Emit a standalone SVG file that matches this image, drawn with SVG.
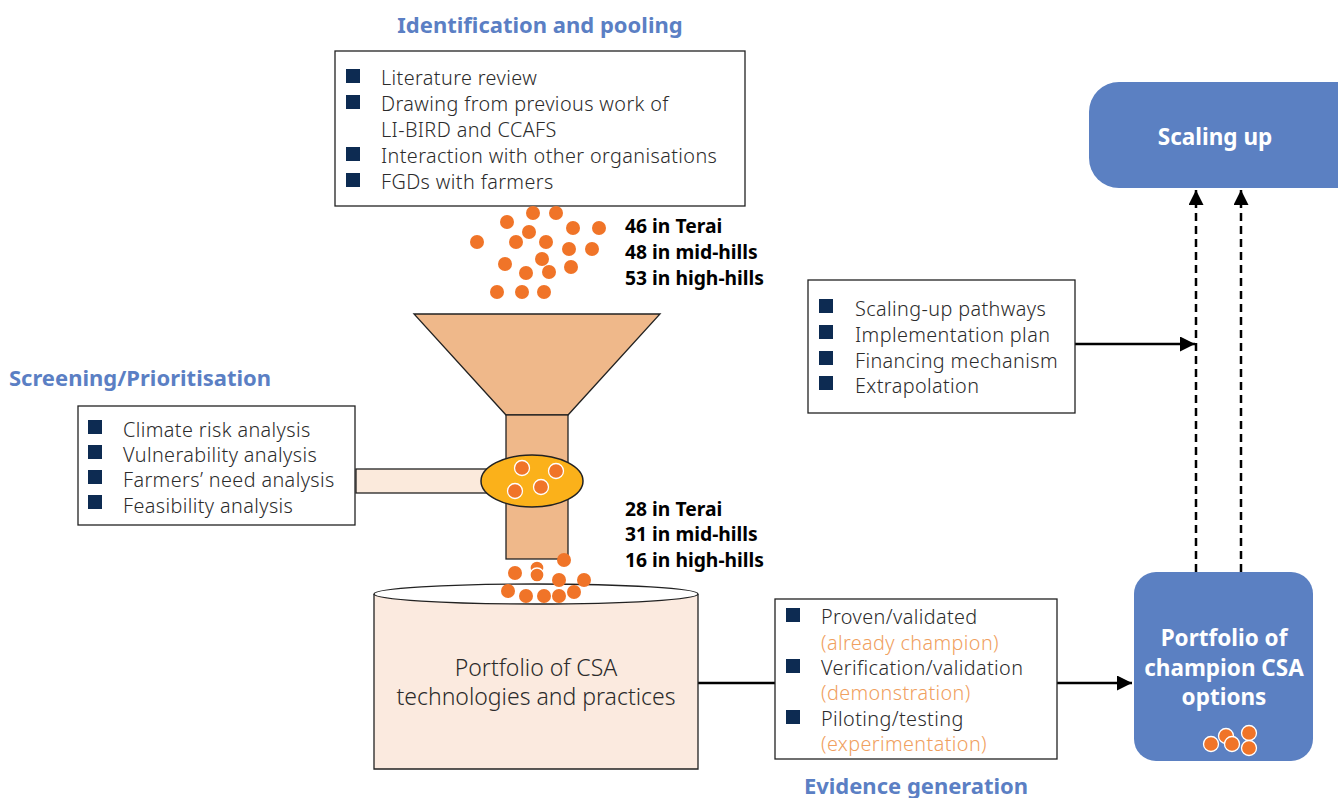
<svg xmlns="http://www.w3.org/2000/svg" width="1338" height="798" viewBox="0 0 1338 798">
<style>
.title{font-family:"Noto Sans","Liberation Sans",sans-serif;font-weight:bold;font-size:22px;fill:#5b7fc4}
.item{font-family:"Noto Sans","Liberation Sans",sans-serif;font-weight:300;font-size:19.8px;letter-spacing:0.4px;fill:#2b2b2b}
.sub{font-family:"Noto Sans","Liberation Sans",sans-serif;font-weight:300;font-size:19.8px;letter-spacing:0.4px;fill:#f0a060}
.count{font-family:"Noto Sans","Liberation Sans",sans-serif;font-weight:bold;font-size:19.3px;fill:#000}
.wht{font-family:"Noto Sans","Liberation Sans",sans-serif;font-weight:bold;font-size:22.5px;fill:#fff}
.big{font-family:"Noto Sans","Liberation Sans",sans-serif;font-weight:300;font-size:23px;fill:#2b2b2b}
.box{fill:#fff;stroke:#222;stroke-width:1.3}
.bul{fill:#0d2b52}
.dot{fill:#f07428}
.dotw{fill:#f07428;stroke:#fff;stroke-width:1.3}
.conn{stroke:#000;stroke-width:2.5;fill:none}
.dash{stroke:#000;stroke-width:2.5;fill:none;stroke-dasharray:8 5}
</style>
<defs>
<marker id="ah2" viewBox="0 0 10 10" refX="10" refY="5" markerWidth="6" markerHeight="6" orient="auto">
<path d="M0,0 L10,5 L0,10 z" fill="#000"/>
</marker>
</defs>

<!-- titles -->
<text class="title" x="540" y="33" text-anchor="middle">Identification and pooling</text>
<text class="title" x="9" y="386">Screening/Prioritisation</text>
<text class="title" x="916" y="794" text-anchor="middle">Evidence generation</text>

<!-- connectors -->
<g id="connectors">
<line class="conn" x1="698" y1="683" x2="775" y2="683"/>
<line class="conn" x1="1057" y1="683" x2="1132" y2="683" marker-end="url(#ah2)"/>
<line class="conn" x1="1075" y1="344" x2="1195" y2="344" marker-end="url(#ah2)"/>
<line class="dash" x1="1196" y1="572" x2="1196" y2="190" marker-end="url(#ah2)"/>
<line class="dash" x1="1241" y1="572" x2="1241" y2="190" marker-end="url(#ah2)"/>
</g>

<!-- identification box -->
<g id="identification">
<rect class="box" x="335" y="51" width="410" height="155"/>
<rect class="bul" x="346" y="69" width="14" height="14"/>
<rect class="bul" x="346" y="95" width="14" height="14"/>
<rect class="bul" x="346" y="147" width="14" height="14"/>
<rect class="bul" x="346" y="173" width="14" height="14"/>
<text class="item" x="381" y="85">Literature review</text>
<text class="item" x="381" y="111">Drawing from previous work of</text>
<text class="item" x="381" y="137">LI-BIRD and CCAFS</text>
<text class="item" x="381" y="163">Interaction with other organisations</text>
<text class="item" x="381" y="189">FGDs with farmers</text>
</g>

<!-- top dots -->
<g id="pool-dots">
<circle class="dot" cx="507" cy="222" r="7"/>
<circle class="dot" cx="533" cy="213" r="7"/>
<circle class="dot" cx="556" cy="213" r="7"/>
<circle class="dot" cx="573" cy="228" r="7"/>
<circle class="dot" cx="599" cy="228" r="7"/>
<circle class="dot" cx="477" cy="242" r="7"/>
<circle class="dot" cx="529" cy="232" r="7"/>
<circle class="dot" cx="516" cy="242" r="7"/>
<circle class="dot" cx="546" cy="242" r="7"/>
<circle class="dot" cx="569" cy="249" r="7"/>
<circle class="dot" cx="592" cy="249" r="7"/>
<circle class="dot" cx="505" cy="264" r="7"/>
<circle class="dot" cx="542" cy="259" r="7"/>
<circle class="dot" cx="571" cy="267" r="7"/>
<circle class="dot" cx="526" cy="273" r="7"/>
<circle class="dot" cx="549" cy="272" r="7"/>
<circle class="dot" cx="497" cy="292" r="7"/>
<circle class="dot" cx="522" cy="292" r="7"/>
<circle class="dot" cx="544" cy="292" r="7"/>
</g>

<g id="counts-pool">
<text class="count" x="625" y="233">46 in Terai</text>
<text class="count" x="625" y="259">48 in mid-hills</text>
<text class="count" x="625" y="285">53 in high-hills</text>
</g>

<!-- screening box -->
<g id="screening">
<rect class="box" x="78" y="406" width="277" height="119"/>
<rect class="bul" x="88" y="420" width="14" height="14"/>
<rect class="bul" x="88" y="445" width="14" height="14"/>
<rect class="bul" x="88" y="470" width="14" height="14"/>
<rect class="bul" x="88" y="495" width="14" height="14"/>
<text class="item" x="123" y="437">Climate risk analysis</text>
<text class="item" x="123" y="462">Vulnerability analysis</text>
<text class="item" x="123" y="487">Farmers’ need analysis</text>
<text class="item" x="123" y="513">Feasibility analysis</text>
</g>

<!-- funnel -->
<g id="funnel">
<rect x="356" y="469" width="140" height="24" fill="#fbeadc" stroke="#222" stroke-width="1.3"/>
<polygon points="414,314 660,314 568,415 506,415" fill="#efb88a" stroke="#222" stroke-width="1.3"/>
<rect x="506" y="415" width="62" height="144" fill="#efb88a" stroke="#222" stroke-width="1.3"/>
<ellipse cx="532" cy="481" rx="51" ry="26" fill="#fbb11a" stroke="#222" stroke-width="1.5"/>
<circle class="dotw" cx="522" cy="468" r="7.5"/>
<circle class="dotw" cx="556" cy="471" r="7.5"/>
<circle class="dotw" cx="515" cy="491" r="7.5"/>
<circle class="dotw" cx="541" cy="487" r="7.5"/>
</g>

<g id="counts-screened">
<text class="count" x="625" y="516">28 in Terai</text>
<text class="count" x="625" y="541">31 in mid-hills</text>
<text class="count" x="625" y="567">16 in high-hills</text>
</g>

<!-- cylinder -->
<g id="portfolio-csa">
<path d="M374,594 L374,769 L698,769 L698,594" fill="#fbeadf" stroke="#222" stroke-width="1.3"/>
<ellipse cx="536" cy="594" rx="162" ry="10" fill="#fff" stroke="#222" stroke-width="1.3"/>
<text class="big" x="536" y="676" text-anchor="middle">Portfolio of CSA</text>
<text class="big" x="536" y="705" text-anchor="middle">technologies and practices</text>
</g>

<!-- falling dots -->
<g id="falling-dots">
<circle class="dot" cx="564" cy="560" r="7"/>
<circle class="dotw" cx="537" cy="568" r="7"/>
<circle class="dot" cx="515" cy="573" r="7"/>
<circle class="dotw" cx="537" cy="575" r="7"/>
<circle class="dot" cx="559" cy="580" r="7"/>
<circle class="dot" cx="584" cy="580" r="7"/>
<circle class="dot" cx="508" cy="591" r="7"/>
<circle class="dot" cx="526" cy="596" r="7"/>
<circle class="dot" cx="544" cy="596" r="7"/>
<circle class="dot" cx="559" cy="596" r="7"/>
<circle class="dot" cx="574" cy="592" r="7"/>
</g>

<!-- evidence box -->
<g id="evidence">
<rect class="box" x="775" y="599" width="282" height="160"/>
<rect class="bul" x="786" y="608" width="14" height="14"/>
<rect class="bul" x="786" y="659" width="14" height="14"/>
<rect class="bul" x="786" y="710" width="14" height="14"/>
<text class="item" x="821" y="624">Proven/validated</text>
<text class="sub" x="821" y="650">(already champion)</text>
<text class="item" x="821" y="675">Verification/validation</text>
<text class="sub" x="821" y="700">(demonstration)</text>
<text class="item" x="821" y="726">Piloting/testing</text>
<text class="sub" x="821" y="751">(experimentation)</text>
</g>

<!-- champion -->
<g id="champion">
<rect x="1134" y="572" width="179" height="189" rx="22" fill="#5b80c2"/>
<text class="wht" x="1224" y="646" text-anchor="middle">Portfolio of</text>
<text class="wht" x="1224" y="676" text-anchor="middle">champion CSA</text>
<text class="wht" x="1224" y="705" text-anchor="middle">options</text>
<circle class="dotw" cx="1211" cy="744" r="7.5"/>
<circle class="dotw" cx="1226" cy="736" r="7.5"/>
<circle class="dotw" cx="1232" cy="744" r="7.5"/>
<circle class="dotw" cx="1249" cy="733" r="7.5"/>
<circle class="dotw" cx="1249" cy="748" r="7.5"/>
</g>

<!-- scaling up -->
<g id="scaling-up">
<rect x="1089" y="82" width="280" height="106" rx="30" fill="#5b80c2"/>
<text class="wht" x="1215" y="145" text-anchor="middle">Scaling up</text>
</g>

<!-- pathways box -->
<g id="pathways">
<rect class="box" x="808" y="280" width="267" height="133"/>
<rect class="bul" x="819" y="299" width="14" height="14"/>
<rect class="bul" x="819" y="325" width="14" height="14"/>
<rect class="bul" x="819" y="351" width="14" height="14"/>
<rect class="bul" x="819" y="376" width="14" height="14"/>
<text class="item" x="855" y="316">Scaling-up pathways</text>
<text class="item" x="855" y="342">Implementation plan</text>
<text class="item" x="855" y="368">Financing mechanism</text>
<text class="item" x="855" y="393">Extrapolation</text>
</g>
</svg>
